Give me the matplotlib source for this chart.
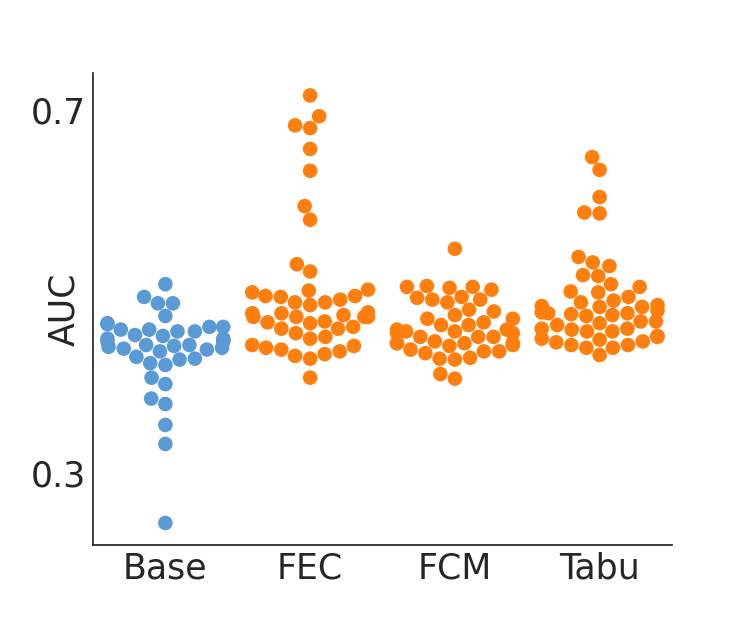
import numpy as np
import pandas as pd
import matplotlib
matplotlib.use("Agg")
import matplotlib.pyplot as plt
import seaborn as sns

# AUC values, one list per method
base_auc = [0.508, 0.494, 0.487, 0.487, 0.473, 0.465, 0.464, 0.461, 0.458, 0.456,
            0.461, 0.456, 0.458, 0.451, 0.448, 0.447, 0.445, 0.439, 0.438, 0.434,
            0.437, 0.436, 0.452, 0.445, 0.440, 0.448, 0.441, 0.441, 0.428, 0.425,
            0.419, 0.421, 0.426, 0.405, 0.398, 0.382, 0.376, 0.353, 0.332, 0.245]
fec_auc = [0.716, 0.693, 0.683, 0.680, 0.657, 0.633, 0.594, 0.579, 0.530, 0.522,
           0.501, 0.495, 0.491, 0.499, 0.502, 0.494, 0.495, 0.485, 0.488, 0.488,
           0.476, 0.472, 0.476, 0.474, 0.472, 0.472, 0.477, 0.472, 0.466, 0.467,
           0.465, 0.461, 0.459, 0.459, 0.454, 0.450, 0.448, 0.441, 0.440, 0.438,
           0.436, 0.434, 0.429, 0.426, 0.431, 0.405]
fcm_auc = [0.547, 0.502, 0.505, 0.504, 0.506, 0.505, 0.491, 0.491, 0.488, 0.493,
           0.494, 0.480, 0.478, 0.474, 0.470, 0.470, 0.463, 0.466, 0.463, 0.458,
           0.456, 0.458, 0.456, 0.454, 0.450, 0.450, 0.450, 0.454, 0.443, 0.441,
           0.443, 0.443, 0.445, 0.443, 0.440, 0.436, 0.434, 0.434, 0.432, 0.426,
           0.425, 0.427, 0.409, 0.404]
tabu_auc = [0.648, 0.634, 0.604, 0.587, 0.586, 0.538, 0.532, 0.528, 0.517, 0.518,
            0.508, 0.505, 0.500, 0.499, 0.494, 0.488, 0.490, 0.485, 0.484, 0.483,
            0.483, 0.479, 0.476, 0.473, 0.474, 0.475, 0.476, 0.477, 0.467, 0.465,
            0.463, 0.467, 0.459, 0.456, 0.456, 0.458, 0.459, 0.451, 0.450, 0.448,
            0.447, 0.445, 0.441, 0.438, 0.438, 0.441, 0.444, 0.430]

methods = ["Base", "FEC", "FCM", "Tabu"]
colors = {"Base": "#5b9bd5", "FEC": "#ff7f0e", "FCM": "#ff7f0e", "Tabu": "#ff7f0e"}

df = pd.DataFrame({
    "method": (["Base"] * len(base_auc) + ["FEC"] * len(fec_auc)
               + ["FCM"] * len(fcm_auc) + ["Tabu"] * len(tabu_auc)),
    "AUC": base_auc + fec_auc + fcm_auc + tabu_auc,
})

sns.set_style("white")
plt.rcParams['font.family'] = ['DejaVu Sans']

fig = plt.figure(figsize=(7.47, 6.23), dpi=100)
ax = fig.add_axes([0.1245, 0.1252, 0.7751, 0.7578])

sns.swarmplot(data=df, x="method", y="AUC", hue="method", order=methods,
              palette=colors, size=10.5, legend=False, ax=ax)

ax.set_ylim(0.2207, 0.7408)
ax.set_xlim(-0.5, 3.5)
ax.set_yticks([0.3, 0.7])
ax.set_xlabel("")
ax.set_ylabel("AUC", fontsize=25, color="#262626")
ax.yaxis.set_label_coords(-0.02, 0.5)
ax.tick_params(axis="both", labelsize=25, colors="#262626", length=0, pad=5)
for s in ["top", "right"]:
    ax.spines[s].set_visible(False)
for s in ["left", "bottom"]:
    ax.spines[s].set_color("#262626")
    ax.spines[s].set_linewidth(1.25)

fig.savefig("out.png", dpi=100)
